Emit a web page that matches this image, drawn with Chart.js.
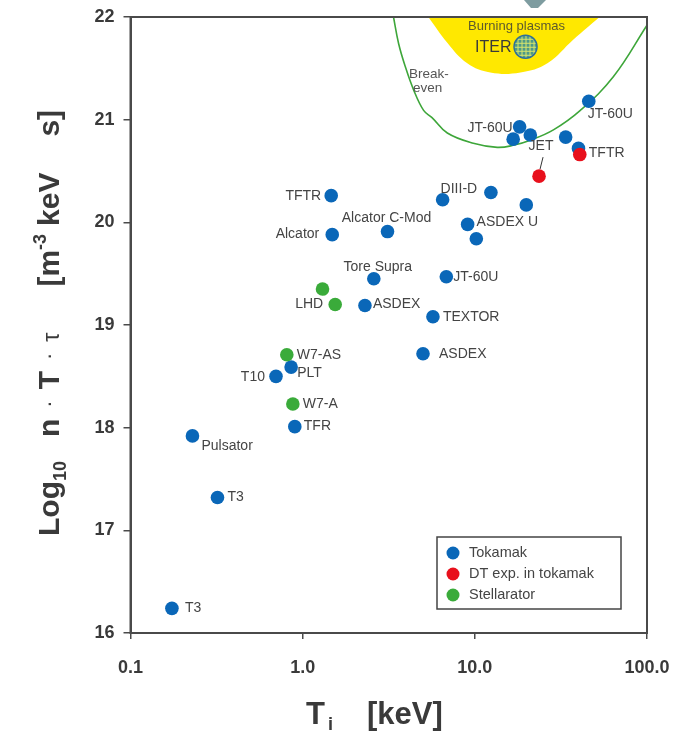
<!DOCTYPE html>
<html lang="en">
<head>
<meta charset="UTF-8" />
<title>Fusion triple product vs ion temperature</title>
<script src="https://cdn.jsdelivr.net/npm/chart.js"></script>
<style>
  html, body { margin: 0; padding: 0; background: #fff; }
  #wrap { position: relative; width: 679px; height: 732px; }
</style>
</head>
<body>
<div id="wrap"><canvas id="chart" width="679" height="732"></canvas></div>
<script>
  // --- data (Ti in keV, log10 of n*T*tau) ---
  const tokamakNames = ['T3', 'T3', 'Pulsator', 'TFR', 'T10', 'PLT', 'ASDEX', 'ASDEX', 'Tore Supra', 'TEXTOR',
    'JT-60U', 'Alcator', 'Alcator C-Mod', 'TFTR', 'DIII-D', '', '', 'ASDEX U', '', 'JT-60U', '', '', '', '', 'JT-60U'];
  const tokamakTi = [0.174, 0.32, 0.229, 0.90, 0.70, 0.857, 5.00, 2.30, 2.59, 5.71,
    6.83, 1.485, 3.11, 1.465, 6.50, 12.4, 19.9, 9.08, 10.2, 18.2, 16.7, 21.0, 33.7, 40.0, 45.9];
  const tokamakLog = [16.24, 17.32, 17.92, 18.01, 18.50, 18.59, 18.72, 19.19, 19.45, 19.08,
    19.47, 19.88, 19.91, 20.26, 20.22, 20.29, 20.17, 19.98, 19.84, 20.93, 20.81, 20.85, 20.83, 20.72, 21.18];

  const dtNames = ['JET', 'TFTR'];
  const dtTi = [23.6, 40.7];
  const dtLog = [20.45, 20.66];

  const stellNames = ['W7-AS', 'W7-A', '', 'LHD'];
  const stellTi = [0.809, 0.877, 1.304, 1.545];
  const stellLog = [18.71, 18.23, 19.35, 19.20];

  const breakEvenTi = [3.37, 3.61, 3.94, 4.41, 5.04, 5.64, 6.92, 9.80, 13.5, 16.7, 21.0, 28.6, 41.0, 63.9, 100];
  const breakEvenLog = [22.0, 21.74, 21.52, 21.29, 21.09, 21.02, 20.87, 20.77, 20.73, 20.75, 20.80, 20.90, 21.09, 21.42, 21.92];

  const burningTi = [5.37, 6.92, 9.04, 12.3, 18.4, 26.4, 37.4, 53.0];
  const burningLog = [22.0, 21.75, 21.55, 21.46, 21.46, 21.55, 21.78, 22.0];

  const iterTi = [19.7];
  const iterLog = [21.71];

  const xTickValues = [0.1, 1, 10, 100];
  const xTickLabels = ['0.1', '1.0', '10.0', '100.0'];

  // label placement next to each point: [dx, dy, align]
  const tokamakLabelPos = [
    [13, 0, 'left'], [10, 0, 'left'], [9, 10, 'left'], [9, 0, 'left'], [-11, 1, 'right'],
    [6, 6, 'left'], [16, 0, 'left'], [8, -1, 'left'], [4, -12, 'center'], [10, 0, 'left'],
    [7, 0, 'left'], [-13, -1, 'right'], [-1, -13, 'center'], [-10, 1, 'right'], [-2, -11, 'left'],
    null, null, [9, -2, 'left'], null, [-7, 1, 'right'], null, null, null, null, [-1, 13, 'left']
  ];
  const dtLabelPos = [[2, -30, 'center'], [9, -1, 'left']];
  const stellLabelPos = [[10, 0, 'left'], [10, 0, 'left'], null, [-12, 0, 'right']];

  const FONT = "'Liberation Sans', Arial, Helvetica, sans-serif";
  const TEXT = '#3a3a3a';
  const AXIS = '#4a4a4a';

  const pts = (xs, ys) => xs.map((x, i) => ({ x: x, y: ys[i] }));

  function drawLabels(ctx, meta, names, placement) {
    meta.data.forEach((p, i) => {
      const pos = placement[i];
      if (!pos || !names[i]) return;
      ctx.textAlign = pos[2];
      ctx.fillText(names[i], p.x + pos[0], p.y + pos[1]);
    });
  }

  // draws a run of text pieces (with sub/superscripts) along the current x direction
  function drawPieces(ctx, pieces) {
    let cx = 0;
    pieces.forEach(pc => {
      if (pc.gap) { cx += pc.gap; return; }
      ctx.font = `${pc.w || 'bold'} ${pc.s}px ${FONT}`;
      ctx.fillText(pc.t, cx, pc.dy || 0);
      cx += ctx.measureText(pc.t).width;
    });
  }

  const decor = {
    id: 'decor',
    afterDatasetsDraw(chart) {
      const ctx = chart.ctx;
      const a = chart.chartArea;
      ctx.save();

      // ITER globe grid
      const g = chart.getDatasetMeta(2).data[0];
      const r = 11.5;
      ctx.save();
      ctx.beginPath();
      ctx.arc(g.x, g.y, r, 0, Math.PI * 2);
      ctx.clip();
      ctx.strokeStyle = '#d9e66c';
      ctx.lineWidth = 1;
      for (let k = -r; k <= r; k += 4) {
        ctx.beginPath(); ctx.moveTo(g.x + k, g.y - r); ctx.lineTo(g.x + k, g.y + r); ctx.stroke();
        ctx.beginPath(); ctx.moveTo(g.x - r, g.y + k); ctx.lineTo(g.x + r, g.y + k); ctx.stroke();
      }
      ctx.restore();
      ctx.beginPath();
      ctx.arc(g.x, g.y, r, 0, Math.PI * 2);
      ctx.strokeStyle = '#2f6f98';
      ctx.lineWidth = 1.5;
      ctx.stroke();

      // region texts
      ctx.fillStyle = '#5d5a2c';
      ctx.textBaseline = 'middle';
      ctx.textAlign = 'center';
      ctx.font = `13px ${FONT}`;
      ctx.fillText('Burning plasmas', g.x - 9, g.y - 20);
      ctx.fillStyle = '#3a3a3a';
      ctx.font = `16px ${FONT}`;
      ctx.textAlign = 'right';
      ctx.fillText('ITER', g.x - 14, g.y + 0.5);

      ctx.fillStyle = '#555';
      ctx.font = `13.5px ${FONT}`;
      ctx.textAlign = 'left';
      ctx.fillText('Break-', 409, 74);
      ctx.fillText('even', 413, 88);

      // point labels
      ctx.fillStyle = '#444';
      ctx.font = `14px ${FONT}`;
      drawLabels(ctx, chart.getDatasetMeta(3), tokamakNames, tokamakLabelPos);
      drawLabels(ctx, chart.getDatasetMeta(4), dtNames, dtLabelPos);
      drawLabels(ctx, chart.getDatasetMeta(5), stellNames, stellLabelPos);

      // JET leader line
      const jet = chart.getDatasetMeta(4).data[0];
      ctx.strokeStyle = '#333';
      ctx.lineWidth = 1;
      ctx.beginPath();
      ctx.moveTo(jet.x + 4, jet.y - 19);
      ctx.lineTo(jet.x + 1, jet.y - 7);
      ctx.stroke();

      // legend box
      const lx = 437, ly = 537, lw = 184, lh = 72;
      ctx.fillStyle = '#fff';
      ctx.fillRect(lx, ly, lw, lh);
      ctx.strokeStyle = '#444';
      ctx.lineWidth = 1.5;
      ctx.strokeRect(lx, ly, lw, lh);
      ctx.font = `14.5px ${FONT}`;
      ctx.textAlign = 'left';
      [3, 4, 5].forEach((di, k) => {
        const ds = chart.data.datasets[di];
        const yy = ly + 16 + k * 21;
        ctx.beginPath();
        ctx.arc(lx + 16, yy, 6.5, 0, Math.PI * 2);
        ctx.fillStyle = ds.backgroundColor;
        ctx.fill();
        ctx.fillStyle = '#444';
        ctx.fillText(ds.label, lx + 32, yy);
      });

      // plot frame
      ctx.strokeStyle = AXIS;
      ctx.lineWidth = 2;
      ctx.strokeRect(a.left, a.top, a.right - a.left, a.bottom - a.top);
      ctx.restore();
    },
    afterDraw(chart) {
      const ctx = chart.ctx;
      ctx.save();
      ctx.fillStyle = TEXT;
      ctx.textBaseline = 'alphabetic';
      ctx.textAlign = 'left';

      // x axis title
      ctx.save();
      ctx.translate(306, 724);
      drawPieces(ctx, [
        { t: 'T', s: 31 }, { gap: 3 }, { t: 'i', s: 18, dy: 6 }, { gap: 34 }, { t: '[keV]', s: 31 }
      ]);
      ctx.restore();

      // y axis title
      ctx.save();
      ctx.translate(59, 536);
      ctx.rotate(-Math.PI / 2);
      drawPieces(ctx, [
        { t: 'Log', s: 30 }, { t: '10', s: 18, dy: 7 }, { gap: 24 },
        { t: 'n', s: 30 }, { gap: 11 }, { t: '·', s: 22, w: 'normal', dy: -3 }, { gap: 11 },
        { t: 'T', s: 30 }, { gap: 11 }, { t: '·', s: 22, w: 'normal', dy: -3 }, { gap: 11 },
        { t: 'τ', s: 23, w: 'normal' }, { gap: 46 },
        { t: '[m', s: 30 }, { t: '-3', s: 18, dy: -13 }, { gap: 8 },
        { t: 'keV', s: 30 }, { gap: 36 }, { t: 's]', s: 30 }
      ]);
      ctx.restore();

      // arrow stub entering from the top
      ctx.fillStyle = '#7e9ca0';
      ctx.beginPath();
      ctx.moveTo(524, 0); ctx.lineTo(546, 0); ctx.lineTo(538, 8); ctx.lineTo(531, 8);
      ctx.closePath();
      ctx.fill();
      ctx.restore();
    }
  };

  new Chart(document.getElementById('chart'), {
    type: 'scatter',
    data: {
      datasets: [
        {
          type: 'line', label: 'Burning plasmas', data: pts(burningTi, burningLog),
          fill: 'end', backgroundColor: '#ffe800', borderWidth: 0, pointRadius: 0, tension: 0.4, order: 10
        },
        {
          type: 'line', label: 'Break-even', data: pts(breakEvenTi, breakEvenLog),
          fill: false, borderColor: '#3ea63a', borderWidth: 1.6, pointRadius: 0, tension: 0.4, order: 9
        },
        {
          label: 'ITER', data: pts(iterTi, iterLog),
          pointRadius: 11.5, backgroundColor: '#4f9a86', borderWidth: 0, order: 8
        },
        {
          label: 'Tokamak', data: pts(tokamakTi, tokamakLog),
          pointRadius: 6.8, backgroundColor: '#0a67b8', borderWidth: 0, order: 3
        },
        {
          label: 'DT exp. in tokamak', data: pts(dtTi, dtLog),
          pointRadius: 6.8, backgroundColor: '#e8101c', borderWidth: 0, order: 2
        },
        {
          label: 'Stellarator', data: pts(stellTi, stellLog),
          pointRadius: 6.8, backgroundColor: '#3aab3a', borderWidth: 0, order: 1
        }
      ]
    },
    options: {
      responsive: false,
      animation: false,
      devicePixelRatio: 1,
      layout: { padding: { left: 0, top: 17, right: 32, bottom: 0 } },
      plugins: { legend: { display: false }, tooltip: { enabled: false } },
      scales: {
        x: {
          type: 'logarithmic',
          min: 0.1,
          max: 100,
          afterBuildTicks: s => { s.ticks = xTickValues.map(v => ({ value: v })); },
          afterFit: s => { s.height = 99; s.paddingLeft = 0; s.paddingRight = 0; },
          ticks: {
            callback: (v, i) => xTickLabels[i],
            font: { family: FONT, size: 18, weight: 'bold' },
            color: TEXT, padding: 18, maxRotation: 0, autoSkip: false
          },
          grid: { drawOnChartArea: false, tickLength: 6, color: AXIS, lineWidth: 1.5 },
          border: { color: AXIS, width: 2 }
        },
        y: {
          min: 16,
          max: 22,
          afterFit: s => { s.width = 130.5; s.paddingTop = 0; s.paddingBottom = 0; },
          ticks: {
            stepSize: 1,
            font: { family: FONT, size: 18, weight: 'bold' },
            color: TEXT, padding: 9
          },
          grid: { drawOnChartArea: false, tickLength: 7, color: AXIS, lineWidth: 1.5 },
          border: { color: AXIS, width: 2 }
        }
      }
    },
    plugins: [decor]
  });
</script>
</body>
</html>
